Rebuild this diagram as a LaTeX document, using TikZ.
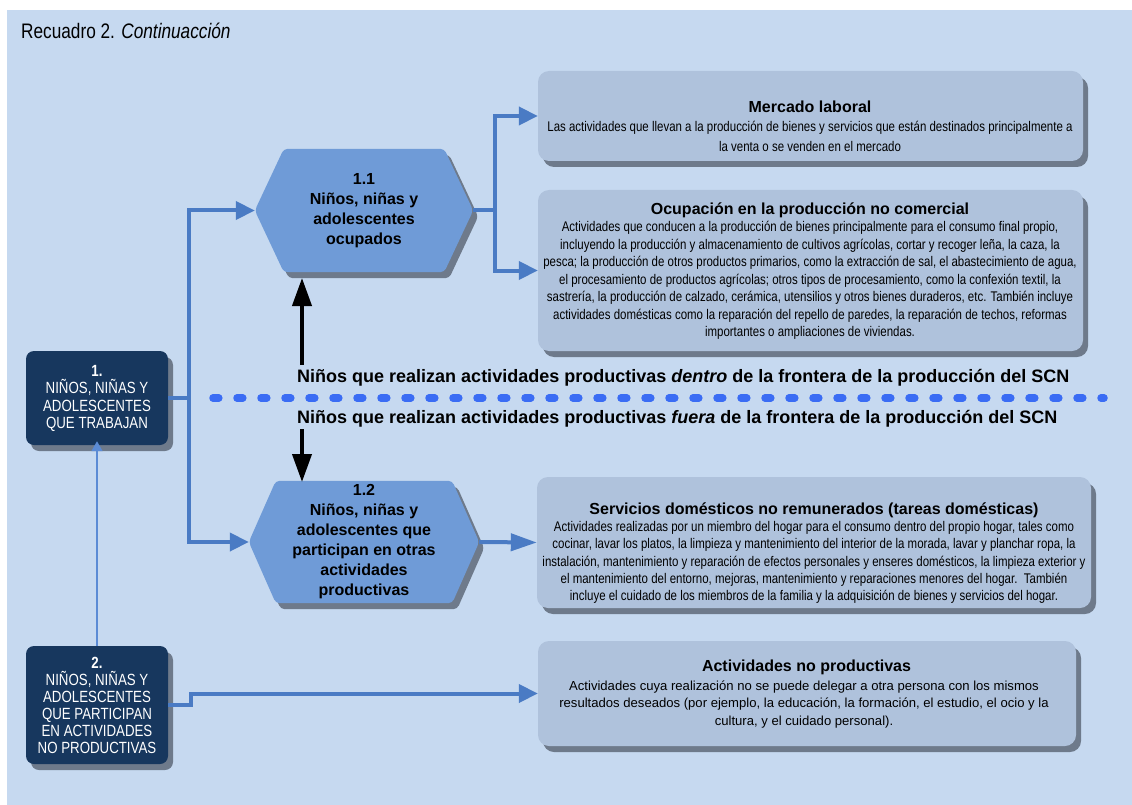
\documentclass[tikz,border=0pt]{standalone}
\usepackage{fontspec}
\setmainfont{Liberation Sans}
\newfontfamily\nar[FakeStretch=0.82]{Liberation Sans}
\usetikzlibrary{arrows.meta,shadows}
\definecolor{bgblue}{HTML}{C6D9F0}
\definecolor{boxgray}{HTML}{AFC2DC}
\definecolor{hexblue}{HTML}{6F9BD7}
\definecolor{darkblue}{HTML}{17375E}
\definecolor{connblue}{HTML}{4A7BC4}
\definecolor{thinblue}{HTML}{5B8BD5}
\definecolor{dashblue}{HTML}{3A6CF4}
\definecolor{shadowgray}{HTML}{6E7A8B}
\tikzset{
  shd/.style={drop shadow={shadow xshift=5pt,shadow yshift=-6pt,fill=shadowgray,opacity=1}},
  rbox/.style={shape=rectangle,fill=boxgray,rounded corners=11pt,shd,inner sep=0pt},
  dbox/.style={shape=rectangle,fill=darkblue,rounded corners=8pt,shd,inner sep=0pt},
  anchorbox/.style={shape=rectangle,draw=none,inner sep=0pt},
  hexshape/.style={fill=hexblue,rounded corners=4pt,shd},
  boxtitle/.style={font=\bfseries\fontsize{16}{19}\selectfont,inner sep=0pt},
  boxbody/.style={font=\nar\fontsize{14}{17.5}\selectfont,align=center,inner sep=0pt},
  darktext/.style={font=\nar\fontsize{16.2}{17.3}\selectfont,align=center,text=white,inner sep=0pt},
  hextext/.style={font=\bfseries\fontsize{16}{20}\selectfont,align=center,inner sep=0pt},
  fronttext/.style={font=\bfseries\fontsize{18}{20}\selectfont,anchor=west,inner sep=0pt},
  conn/.style={draw=connblue,line width=4pt},
  connarrow/.style={conn,-{Triangle[length=19pt,width=18pt]}},
  blackarrow/.style={draw=black,line width=4pt,-{Triangle[length=28pt,width=19pt]}},
  thinarrow/.style={draw=thinblue,line width=1.5pt,-{Triangle[length=10pt,width=11pt]}},
  dashline/.style={draw=dashblue,line width=7.5pt,line cap=round,dash pattern=on 5.8pt off 18.2pt}
}
\begin{document}
\begin{tikzpicture}[x=1pt,y=-1pt]
\useasboundingbox (0,0) rectangle (1132,805);
\fill[bgblue] (7,10) rectangle (1132,805);
\node[anchor=west,inner sep=0pt,font=\nar\fontsize{21}{24}\selectfont] (title) at (21,31) {Recuadro 2. \textit{Continuacción}};

% right boxes
\node[rbox,minimum width=545pt,minimum height=90pt] (mk) at (810.5,116) {};
\node[rbox,minimum width=545pt,minimum height=161pt] (oc) at (810.5,270.5) {};
\node[rbox,minimum width=554pt,minimum height=131pt] (sv) at (814,542.5) {};
\node[rbox,minimum width=538pt,minimum height=105pt] (an) at (807,693.5) {};

\node[boxtitle] (mkt) at (810,107) {Mercado laboral};
\node[boxbody,font=\nar\fontsize{14}{20}\selectfont] (mkb) at (810,136) {Las actividades que llevan a la producción de bienes y servicios que están destinados principalmente a\\ la venta o se venden en el mercado};

\node[boxtitle] (oct) at (810,210) {Ocupación en la producción no comercial};
\node[boxbody] (ocb) at (810,280.5) {Actividades que conducen a la producción de bienes principalmente para el consumo final propio,\\
incluyendo la producción y almacenamiento de cultivos agrícolas, cortar y recoger leña, la caza, la\\
pesca; la producción de otros productos primarios, como la extracción de sal, el abastecimiento de agua,\\
el procesamiento de productos agrícolas; otros tipos de procesamiento, como la confexión textil, la\\
sastrería, la producción de calzado, cerámica, utensilios y otros bienes duraderos, etc. También incluye\\
actividades domésticas como la reparación del repello de paredes, la reparación de techos, reformas\\
importantes o ampliaciones de viviendas.};

\node[boxtitle] (svt) at (814,510) {Servicios domésticos no remunerados (tareas domésticas)};
\node[boxbody,font=\nar\fontsize{14}{17.3}\selectfont] (svb) at (814,562.5) {Actividades realizadas por un miembro del hogar para el consumo dentro del propio hogar, tales como\\
cocinar, lavar los platos, la limpieza y mantenimiento del interior de la morada, lavar y planchar ropa, la\\
instalación, mantenimiento y reparación de efectos personales y enseres domésticos, la limpieza exterior y\\
el mantenimiento del entorno, mejoras, mantenimiento y reparaciones menores del hogar.\ \ También\\
incluye el cuidado de los miembros de la familia y la adquisición de bienes y servicios del hogar.};

\node[boxtitle] (ant) at (806.5,667) {Actividades no productivas};
\node[boxbody,font=\fontsize{13.1}{17.7}\selectfont] (anb) at (804,704.5) {Actividades cuya realización no se puede delegar a otra persona con los mismos\\
resultados deseados (por ejemplo, la educación, la formación, el estudio, el ocio y la\\
cultura, y el cuidado personal).};

% dark boxes
\node[dbox,minimum width=142pt,minimum height=94pt] (b1) at (97,398) {};
\node[darktext] (b1t) at (97,398.5) {\textbf{1.}\\NIÑOS, NIÑAS Y\\ADOLESCENTES\\QUE TRABAJAN};
\node[dbox,minimum width=142pt,minimum height=118pt] (b2) at (97,705) {};
\node[darktext,font=\nar\fontsize{16.2}{17}\selectfont] (b2t) at (97,705.5) {\textbf{2.}\\NIÑOS, NIÑAS Y\\ADOLESCENTES\\QUE PARTICIPAN\\EN ACTIVIDADES\\NO PRODUCTIVAS};

% hexagons
\node[anchorbox,minimum width=218pt,minimum height=123pt] (h11) at (364,210.5) {};
\fill[hexshape] (h11.west) -- ([xshift=29pt]h11.north west) -- ([xshift=-29pt]h11.north east) -- (h11.east) -- ([xshift=-29pt]h11.south east) -- ([xshift=29pt]h11.south west) -- cycle;
\node[hextext] (h11t) at (364,210.5) {1.1\\Niños, niñas y\\adolescentes\\ocupados};

\node[anchorbox,minimum width=230pt,minimum height=122pt] (h12) at (364,542) {};
\fill[hexshape] (h12.west) -- ([xshift=27pt]h12.north west) -- ([xshift=-27pt]h12.north east) -- (h12.east) -- ([xshift=-27pt]h12.south east) -- ([xshift=27pt]h12.south west) -- cycle;
\node[hextext] (h12t) at (364,542) {1.2\\Niños, niñas y\\adolescentes que\\participan en otras\\actividades\\productivas};

% frontier
\coordinate (dl) at (213,398);
\coordinate (dr) at (1104,398);
\draw[dashline] (dl) -- (dr);
\node[fronttext] (f1) at (297,378) {Niños que realizan actividades productivas \textit{dentro} de la frontera de la producción del SCN};
\node[fronttext] (f2) at (297,419) {Niños que realizan actividades productivas \textit{fuera} de la frontera de la producción del SCN};

% connectors
\coordinate (j1) at (189,398);
\coordinate (j2) at (495,210.5);
\coordinate (j3) at (191,705);
\draw[conn] (b1.east) -- (j1);
\draw[connarrow] (j1) |- (h11.west);
\draw[connarrow] (j1) |- (h12.west);
\draw[conn] (h11.east) -- (j2);
\draw[connarrow] (j2) |- (mk.west);
\draw[connarrow] (j2) |- (oc.west);
\draw[conn,-{Triangle[length=26pt,width=17pt]}] (h12.east) -- (sv.west);
\draw[connarrow] (b2.east) -- (j3) |- (an.west);
\draw[thinarrow,shorten >=-4pt] (b2.north) -- (b1.south);

\coordinate (up0) at (302,365);
\coordinate (up1) at (302,278);
\coordinate (dn0) at (302,429);
\coordinate (dn1) at (302,482);
\draw[blackarrow] (up0) -- (up1);
\draw[blackarrow] (dn0) -- (dn1);
\end{tikzpicture}
\end{document}
